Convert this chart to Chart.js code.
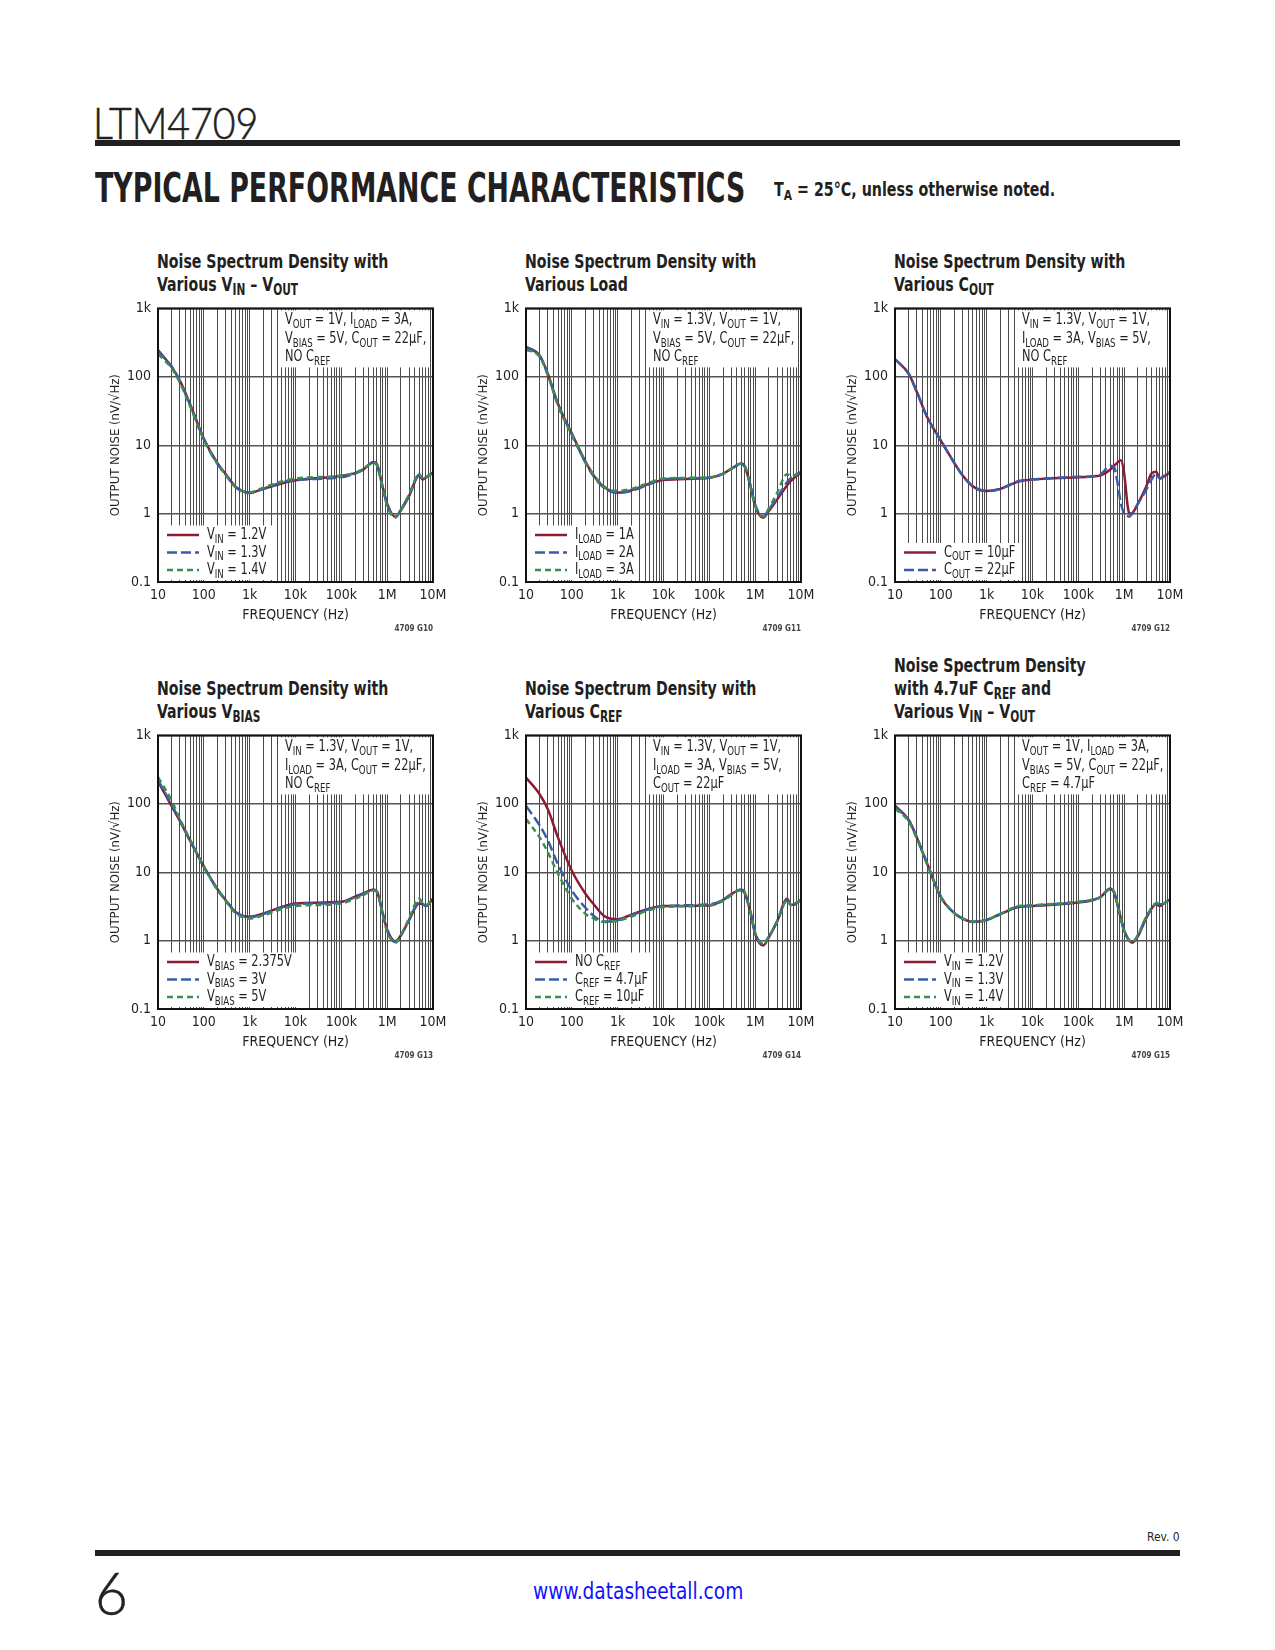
<!DOCTYPE html>
<html>
<head>
<meta charset="utf-8">
<script src="https://cdn.jsdelivr.net/npm/chart.js@4.4.0/dist/chart.umd.min.js"></script>
<style>
  body { margin: 0; width: 1275px; height: 1650px; background: #fff; position: relative;
         font-family: 'Liberation Sans Narrow', 'DejaVu Sans Condensed', sans-serif; color: #231f20; }
  .abs { position: absolute; white-space: nowrap; }
  .fit { display: inline-block; transform-origin: 0 0; }
  .rule { position: absolute; left: 95px; width: 1085px; height: 6px; background: #231f20; }
  .part { left: 93px; top: 96px; font: 300 44px Lato, 'Open Sans', sans-serif; -webkit-text-stroke: 0.6px #231f20; }
  .sect { left: 95px; top: 164px; font-weight: 900; font-size: 40px; line-height: 48px; }
  .note { left: 774px; top: 177px; font-weight: bold; font-size: 19px; line-height: 24px; }
  .ttl { font-weight: bold; font-size: 20px; line-height: 23px; }
  sub { font-size: 75%; vertical-align: -0.28em; line-height: 0; }
  .gid { font-size: 8px; font-weight: bold; color: #444; }
  .box { position: absolute; }
</style>
</head>
<body>
<div class="abs part fit" data-w="165">LTM4709</div>
<div class="rule" style="top:140px"></div>
<div class="abs sect fit" data-w="650">TYPICAL PERFORMANCE CHARACTERISTICS</div>
<div class="abs note fit" data-w="281">T<sub>A</sub> = 25°C, unless otherwise noted.</div>

<div class="abs fit" data-w="33" style="left:1147px;top:1529px;font-size:13px;">Rev. 0</div>
<div class="rule" style="top:1550px"></div>
<div class="abs fit" data-w="33" style="left:95px;top:1556px;font:300 60px Lato,'Open Sans',sans-serif;-webkit-text-stroke:0.6px #231f20;">6</div>
<div class="abs fit" data-w="210" style="left:533px;top:1578px;font-size:23px;color:#1010ff;">www.datasheetall.com</div>

<script>
// frequency points (Hz)
const FREQ = [10, 20, 30, 50, 100, 200, 300, 500, 1e3, 2e3, 5e3, 1e4, 1e5, 2e5, 3e5, 5e5, 6e5, 8e5, 1e6, 1.5e6, 2e6, 3e6, 5e6, 6e6, 7e6, 1e7];
const FREQ_COUT = [10, 20, 30, 50, 100, 200, 300, 500, 1e3, 2e3, 5e3, 1e4, 1e5, 2e5, 3e5, 5e5, 6e5, 7e5, 8.5e5, 1e6, 1.2e6, 1.3e6, 1.5e6, 2e6, 3e6, 4e6, 5e6, 6e6, 7e6, 1e7];

// G10 various VIN - VOUT
const vin12 = [247, 138, 88, 40, 12.4, 5.4, 3.8, 2.45, 2.03, 2.3, 2.75, 3.07, 3.55, 3.9, 4.4, 5.7, 5.25, 2.45, 1.4, 0.9, 1.12, 1.8, 3.6, 3.15, 3.35, 4.0];
const vin13 = [235, 140, 86, 39, 12.2, 5.3, 3.7, 2.4, 2.0, 2.3, 2.85, 3.1, 3.4, 3.85, 4.4, 5.6, 5.1, 2.4, 1.35, 0.88, 1.15, 1.85, 3.7, 3.2, 3.4, 3.95];
const vin14 = [215, 132, 82, 37, 12.0, 5.3, 3.7, 2.45, 2.05, 2.4, 2.95, 3.25, 3.6, 3.95, 4.5, 5.5, 5.0, 2.35, 1.3, 0.88, 1.15, 1.9, 3.8, 3.25, 3.4, 3.95];

// G11 various load
const load1 = [275, 204, 110, 40, 14.8, 5.7, 3.6, 2.45, 2.03, 2.2, 2.75, 3.1, 3.35, 3.85, 4.5, 5.4, 4.8, 2.45, 1.3, 0.87, 1.1, 1.6, 2.6, 3.0, 3.3, 4.0];
const load2 = [265, 200, 108, 39, 14.5, 5.5, 3.5, 2.4, 2.0, 2.15, 2.7, 3.2, 3.35, 3.8, 4.5, 5.3, 4.8, 2.5, 1.35, 0.9, 1.15, 1.7, 2.9, 3.3, 3.5, 4.1];
const load3 = [250, 195, 105, 38, 14.0, 5.6, 3.7, 2.5, 2.15, 2.3, 2.85, 3.25, 3.4, 3.85, 4.5, 5.4, 4.9, 2.4, 1.3, 0.92, 1.2, 2.0, 3.8, 3.5, 3.6, 4.2];

// G12 various COUT
const cout10 = [182, 110, 60, 26, 11.7, 5.4, 3.6, 2.5, 2.14, 2.3, 2.95, 3.15, 3.4, 3.5, 3.6, 4.4, 5.0, 5.5, 6.0, 3.85, 1.25, 1.0, 1.02, 1.4, 2.45, 3.9, 4.1, 3.25, 3.4, 4.0];
const cout22 = [180, 110, 60, 26, 11.7, 5.4, 3.6, 2.5, 2.14, 2.3, 3.0, 3.15, 3.45, 3.5, 3.7, 5.0, 4.8, 3.1, 1.4, 1.0, 0.92, 0.9, 1.0, 1.4, 2.2, 3.2, 3.85, 3.25, 3.5, 4.1];

// G13 various VBIAS
const bias2375 = [213, 92, 56, 29, 12.2, 5.6, 3.9, 2.6, 2.23, 2.5, 3.1, 3.5, 3.7, 4.4, 4.9, 5.6, 5.2, 2.5, 1.45, 0.97, 1.2, 2.0, 3.5, 3.4, 3.2, 4.1];
const bias3 = [222, 96, 57, 29, 12.0, 5.5, 3.9, 2.6, 2.2, 2.45, 3.05, 3.4, 3.65, 4.3, 4.8, 5.5, 5.2, 2.5, 1.4, 0.95, 1.2, 2.0, 3.6, 3.4, 3.2, 4.1];
const bias5 = [245, 110, 60, 30, 12.0, 5.5, 3.8, 2.5, 2.1, 2.35, 2.9, 3.2, 3.5, 4.1, 4.6, 5.4, 5.1, 2.4, 1.35, 0.93, 1.2, 2.1, 4.1, 3.5, 3.3, 4.1];

// G14 various CREF
const crefNone = [242, 137, 83, 32, 10.5, 4.8, 3.4, 2.3, 2.05, 2.4, 2.95, 3.2, 3.25, 3.95, 4.8, 5.5, 4.8, 2.5, 1.26, 0.85, 1.12, 1.9, 4.1, 3.35, 3.35, 4.0];
const cref47 = [93, 48, 29, 13, 5.4, 3.0, 2.3, 1.9, 1.98, 2.35, 2.9, 3.2, 3.4, 3.9, 4.7, 5.6, 5.0, 2.5, 1.3, 0.9, 1.15, 1.9, 3.9, 3.3, 3.4, 3.9];
const cref10 = [60, 32, 19.5, 9.5, 4.1, 2.45, 2.1, 1.87, 1.95, 2.25, 2.8, 3.1, 3.3, 3.8, 4.6, 5.6, 5.0, 2.5, 1.3, 0.9, 1.15, 1.9, 3.9, 3.3, 3.4, 3.9];

// G15 4.7uF CREF, various VIN - VOUT
const r47vin12 = [94, 58, 32, 13.5, 4.3, 2.5, 2.1, 1.87, 2.0, 2.45, 3.1, 3.2, 3.6, 3.9, 4.3, 5.7, 5.1, 2.45, 1.4, 0.93, 1.15, 2.1, 3.4, 3.2, 3.4, 4.0];
const r47vin13 = [90, 57, 32, 13.5, 4.4, 2.5, 2.1, 1.88, 2.0, 2.45, 3.15, 3.25, 3.65, 3.9, 4.3, 5.8, 5.1, 2.5, 1.4, 0.95, 1.2, 2.15, 3.5, 3.4, 3.45, 4.0];
const r47vin14 = [85, 55, 31, 13.2, 4.4, 2.5, 2.1, 1.9, 2.0, 2.45, 3.2, 3.3, 3.7, 3.95, 4.3, 5.8, 5.2, 2.5, 1.4, 0.95, 1.2, 2.2, 3.5, 3.6, 3.5, 4.0];

// axis ticks
const X_TICKS = [10, 100, 1e3, 1e4, 1e5, 1e6, 1e7];
const X_LABELS = ['10', '100', '1k', '10k', '100k', '1M', '10M'];
const Y_TICKS = [0.1, 1, 10, 100, 1000];
const Y_LABELS = ['0.1', '1', '10', '100', '1k'];

const RED = '#8e1b33', BLUE = '#3a5ca8', GREEN = '#3b8f4c';
const FONT = "'Liberation Sans Narrow', 'DejaVu Sans Condensed', sans-serif";
const INK = '#231f20';
const TXT = 15.5;  // note / legend text size
const SX = 0.815;  // squeeze for condensed look

// squeeze html text to the widths measured on the page
function fitEl(el, w) {
  el.style.transform = 'scaleX(' + (w / el.offsetWidth) + ')';
}
document.querySelectorAll('[data-w]').forEach(el => fitEl(el, +el.dataset.w));

// minor grid lines 1..9 per decade
const X_GRID = [];
X_TICKS.forEach((d, i) => {
  if (i === X_TICKS.length - 1) { X_GRID.push(d); return; }
  for (let k = 1; k < 10; k++) X_GRID.push(d * k);
});

function richText(ctx, str, x, y, size) {
  ctx.save();
  ctx.translate(x, y);
  ctx.scale(SX, 1);
  let cx = 0;
  str.split(/(\{[^}]*\})/).forEach(p => {
    if (!p) return;
    const sub = p[0] === '{';
    const t = sub ? p.slice(1, -1) : p;
    ctx.font = (sub ? size * 0.76 : size) + 'px ' + FONT;
    ctx.fillText(t, cx, sub ? size * 0.3 : 0);
    cx += ctx.measureText(t).width;
  });
  ctx.restore();
}

const frame = {
  id: 'frame',
  beforeDatasetsDraw(chart, args, o) {
    const ctx = chart.ctx, a = chart.chartArea;
    const n = o.legend.length;
    ctx.save();
    ctx.fillStyle = '#fff';
    // condition box, top right
    ctx.fillRect(a.left + 122, a.top + 2, 150, 57);
    // legend box, bottom left
    const lt = a.bottom - 4 - n * 17.5;
    ctx.fillRect(a.left + 3, lt, o.legendWidth, a.bottom - lt - 2);
    ctx.fillStyle = INK;
    ctx.textBaseline = 'middle';
    o.note.forEach((line, i) => richText(ctx, line, a.left + 127, a.top + 12 + i * 18.5, TXT));
    o.legend.forEach((item, i) => {
      const y = a.bottom - 12 - (n - 1 - i) * 17.5;
      ctx.strokeStyle = item.color;
      ctx.lineWidth = 2.5;
      ctx.setLineDash(item.dash || []);
      ctx.beginPath();
      ctx.moveTo(a.left + 9, y);
      ctx.lineTo(a.left + 41, y);
      ctx.stroke();
      ctx.setLineDash([]);
      ctx.fillStyle = INK;
      richText(ctx, item.text, a.left + 49, y, TXT);
    });
    ctx.restore();
  },
  afterDatasetsDraw(chart) {
    const ctx = chart.ctx, a = chart.chartArea;
    ctx.save();
    ctx.strokeStyle = '#111';
    ctx.lineWidth = 2;
    ctx.strokeRect(a.left, a.top, a.right - a.left, a.bottom - a.top);
    ctx.restore();
  }
};

const DASH_B = [10, 4], DASH_G = [6, 4];
const PLOT_W = 275, PLOT_H = 274;

// one title scale for all panel headings
const probe = document.createElement('span');
probe.className = 'abs ttl';
probe.textContent = 'Noise Spectrum Density with';
document.body.appendChild(probe);
const TITLE_SX = 231 / probe.offsetWidth;
probe.remove();

function chartConfig(freq, series, note, legendWidth) {
  return {
    type: 'line',
    data: {
      labels: freq,
      datasets: series.map((s, k) => ({
        data: s.data.map((v, i) => ({ x: freq[i], y: v })),
        borderColor: s.color,
        borderDash: s.dash || [],
        borderWidth: 2.5,
        cubicInterpolationMode: 'monotone',
        pointRadius: 0,
        fill: false,
        order: series.length - k
      }))
    },
    options: {
      responsive: false,
      animation: false,
      layout: { padding: { top: 12, right: 22, left: 0, bottom: 0 } },
      plugins: {
        legend: { display: false },
        tooltip: { enabled: false },
        frame: { note: note, legend: series, legendWidth: legendWidth }
      },
      scales: {
        x: {
          type: 'logarithmic', min: 10, max: 1e7,
          afterBuildTicks: s => { s.ticks = X_GRID.map(v => ({ value: v })); },
          afterFit: s => { s.height = 52; },
          grid: { color: '#4a4a4a', lineWidth: 1, drawTicks: false },
          border: { display: false },
          ticks: {
            autoSkip: false, maxRotation: 0, padding: 5, color: INK,
            font: { family: FONT, size: 14 },
            callback: v => { const i = X_TICKS.indexOf(v); return i < 0 ? '' : X_LABELS[i]; }
          },
          title: { display: true, text: 'FREQUENCY (Hz)', color: INK, font: { family: FONT, size: 14 }, padding: { top: 0, bottom: 10 } }
        },
        y: {
          type: 'logarithmic', min: 0.1, max: 1000,
          afterBuildTicks: s => { s.ticks = Y_TICKS.map(v => ({ value: v })); },
          afterFit: s => { s.width = 62; },
          grid: { color: '#555', lineWidth: 1.4, drawTicks: false },
          border: { display: false },
          ticks: {
            padding: 7, color: INK,
            font: { family: FONT, size: 14 },
            callback: v => { const i = Y_TICKS.indexOf(v); return i < 0 ? '' : Y_LABELS[i]; }
          },
          title: { display: true, text: 'OUTPUT NOISE (nV/√Hz)', color: INK, font: { family: FONT, size: 13 }, padding: { top: 12, bottom: 0 } }
        }
      }
    },
    plugins: [frame]
  };
}

function makeChart(plotLeft, plotTop, title, gid, freq, series, note, legendWidth) {
  const lines = title.length;
  const t = document.createElement('div');
  t.className = 'abs ttl fit';
  t.style.left = (plotLeft - 1) + 'px';
  t.style.top = (plotTop - 24 - 11.5 - (lines - 1) * 23) + 'px';
  t.style.transform = 'scaleX(' + TITLE_SX + ')';
  t.innerHTML = title.join('<br>');
  document.body.appendChild(t);

  const box = document.createElement('div');
  box.className = 'box';
  box.style.left = (plotLeft - 62) + 'px';
  box.style.top = (plotTop - 12) + 'px';
  document.body.appendChild(box);

  const g = document.createElement('div');
  g.className = 'abs gid';
  g.style.right = (1275 - plotLeft - PLOT_W) + 'px';
  g.style.top = (plotTop + PLOT_H + 42) + 'px';
  g.textContent = gid;
  document.body.appendChild(g);

  // first pass measures the plot area, second pass sizes the canvas so it is exact
  let w = 359, h = 338, chart = null, a = null;
  for (let pass = 0; pass < 3; pass++) {
    if (chart) chart.destroy();
    box.innerHTML = '';
    const cv = document.createElement('canvas');
    cv.width = w; cv.height = h;
    cv.style.width = w + 'px'; cv.style.height = h + 'px';
    box.appendChild(cv);
    chart = new Chart(cv, chartConfig(freq, series, note, legendWidth));
    a = chart.chartArea;
    const dw = PLOT_W - (a.right - a.left), dh = PLOT_H - (a.bottom - a.top);
    if (Math.abs(dw) < 0.5 && Math.abs(dh) < 0.5) break;
    w = Math.round(w + dw); h = Math.round(h + dh);
  }
  box.style.left = (plotLeft - a.left) + 'px';
  box.style.top = (plotTop - a.top) + 'px';
}

const COL = [158, 526, 895];
const ROW = [308, 735];

makeChart(COL[0], ROW[0], ['Noise Spectrum Density with', 'Various V<sub>IN</sub> – V<sub>OUT</sub>'], '4709 G10', FREQ, [
  { data: vin12, color: RED, text: 'V{IN} = 1.2V' },
  { data: vin13, color: BLUE, dash: DASH_B, text: 'V{IN} = 1.3V' },
  { data: vin14, color: GREEN, dash: DASH_G, text: 'V{IN} = 1.4V' }
], ['V{OUT} = 1V, I{LOAD} = 3A,', 'V{BIAS} = 5V, C{OUT} = 22µF,', 'NO C{REF}'], 111);

makeChart(COL[1], ROW[0], ['Noise Spectrum Density with', 'Various Load'], '4709 G11', FREQ, [
  { data: load1, color: RED, text: 'I{LOAD} = 1A' },
  { data: load2, color: BLUE, dash: DASH_B, text: 'I{LOAD} = 2A' },
  { data: load3, color: GREEN, dash: DASH_G, text: 'I{LOAD} = 3A' }
], ['V{IN} = 1.3V, V{OUT} = 1V,', 'V{BIAS} = 5V, C{OUT} = 22µF,', 'NO C{REF}'], 110);

makeChart(COL[2], ROW[0], ['Noise Spectrum Density with', 'Various C<sub>OUT</sub>'], '4709 G12', FREQ_COUT, [
  { data: cout10, color: RED, text: 'C{OUT} = 10µF' },
  { data: cout22, color: BLUE, dash: DASH_B, text: 'C{OUT} = 22µF' }
], ['V{IN} = 1.3V, V{OUT} = 1V,', 'I{LOAD} = 3A, V{BIAS} = 5V,', 'NO C{REF}'], 121);

makeChart(COL[0], ROW[1], ['Noise Spectrum Density with', 'Various V<sub>BIAS</sub>'], '4709 G13', FREQ, [
  { data: bias2375, color: RED, text: 'V{BIAS} = 2.375V' },
  { data: bias3, color: BLUE, dash: DASH_B, text: 'V{BIAS} = 3V' },
  { data: bias5, color: GREEN, dash: DASH_G, text: 'V{BIAS} = 5V' }
], ['V{IN} = 1.3V, V{OUT} = 1V,', 'I{LOAD} = 3A, C{OUT} = 22µF,', 'NO C{REF}'], 137);

makeChart(COL[1], ROW[1], ['Noise Spectrum Density with', 'Various C<sub>REF</sub>'], '4709 G14', FREQ, [
  { data: crefNone, color: RED, text: 'NO C{REF}' },
  { data: cref47, color: BLUE, dash: DASH_B, text: 'C{REF} = 4.7µF' },
  { data: cref10, color: GREEN, dash: DASH_G, text: 'C{REF} = 10µF' }
], ['V{IN} = 1.3V, V{OUT} = 1V,', 'I{LOAD} = 3A, V{BIAS} = 5V,', 'C{OUT} = 22µF'], 122);

makeChart(COL[2], ROW[1], ['Noise Spectrum Density', 'with 4.7uF C<sub>REF</sub> and', 'Various V<sub>IN</sub> – V<sub>OUT</sub>'], '4709 G15', FREQ, [
  { data: r47vin12, color: RED, text: 'V{IN} = 1.2V' },
  { data: r47vin13, color: BLUE, dash: DASH_B, text: 'V{IN} = 1.3V' },
  { data: r47vin14, color: GREEN, dash: DASH_G, text: 'V{IN} = 1.4V' }
], ['V{OUT} = 1V, I{LOAD} = 3A,', 'V{BIAS} = 5V, C{OUT} = 22µF,', 'C{REF} = 4.7µF'], 110);
</script>
</body>
</html>
